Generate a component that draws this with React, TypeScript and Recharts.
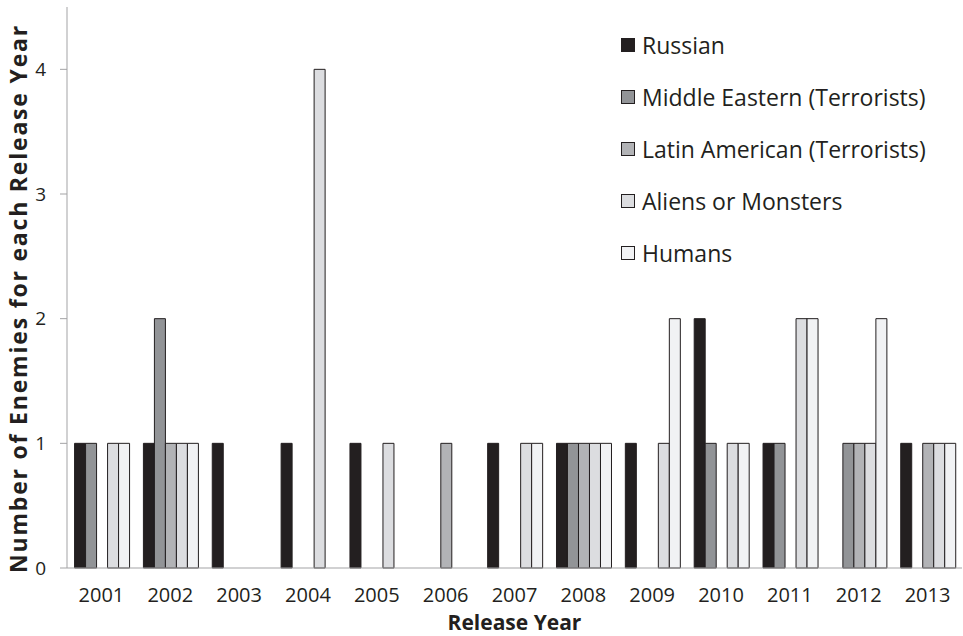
import React from "react";
import { BarChart, Bar, XAxis, YAxis } from "recharts";

const years = [
  "2001", "2002", "2003", "2004", "2005", "2006", "2007",
  "2008", "2009", "2010", "2011", "2012", "2013",
];

const russian = [1, 1, 1, 1, 1, 0, 1, 1, 1, 2, 1, 0, 1];
const middleEastern = [1, 2, 0, 0, 0, 0, 0, 1, 0, 1, 1, 1, 0];
const latinAmerican = [0, 1, 0, 0, 0, 1, 0, 1, 0, 0, 0, 1, 1];
const aliens = [1, 1, 0, 4, 1, 0, 1, 1, 1, 1, 2, 1, 1];
const humans = [1, 1, 0, 0, 0, 0, 1, 1, 2, 1, 2, 2, 1];

const yTicks = [0, 1, 2, 3, 4];

const seriesList = [
  { key: "russian", name: "Russian", fill: "#231f20" },
  { key: "middleEastern", name: "Middle Eastern (Terrorists)", fill: "#929497" },
  { key: "latinAmerican", name: "Latin American (Terrorists)", fill: "#b2b3b6" },
  { key: "aliens", name: "Aliens or Monsters", fill: "#dcdde0" },
  { key: "humans", name: "Humans", fill: "#f1f2f4" },
];

const data = years.map((year, i) => ({
  year,
  russian: russian[i],
  middleEastern: middleEastern[i],
  latinAmerican: latinAmerican[i],
  aliens: aliens[i],
  humans: humans[i],
}));

const FONT = "'Open Sans', sans-serif";
const INK = "#231f20";
const AXIS_GREY = "#a3a3a5";

// legend sits over the plot, so it is drawn outside the chart layout
function KeyList() {
  return (
    <div
      style={{
        position: "absolute",
        left: 621,
        top: 19,
        fontFamily: FONT,
        fontSize: 23,
        color: INK,
        pointerEvents: "none",
      }}
    >
      {seriesList.map((s) => (
        <div
          key={s.key}
          style={{ display: "flex", alignItems: "center", height: 52, whiteSpace: "nowrap" }}
        >
          <span
            style={{
              display: "inline-block",
              width: 12,
              height: 12,
              background: s.fill,
              border: `1px solid ${INK}`,
              marginRight: 7,
            }}
          />
          <span>{s.name}</span>
        </div>
      ))}
    </div>
  );
}

function YTitle(props: any) {
  const vb = props.viewBox;
  const cx = 18;
  const cy = vb.y + vb.height / 2 + 11;
  return (
    <text
      x={cx}
      y={cy}
      transform={`rotate(-90, ${cx}, ${cy})`}
      textAnchor="middle"
      dominantBaseline="central"
      fontFamily={FONT}
      fontWeight="bold"
      fontSize={23}
      letterSpacing={1.8}
      fill={INK}
    >
      Number of Enemies for each Release Year
    </text>
  );
}

function XTitle(props: any) {
  const vb = props.viewBox;
  return (
    <text
      x={vb.x + vb.width / 2}
      y={630}
      textAnchor="middle"
      fontFamily={FONT}
      fontWeight="bold"
      fontSize={21}
      fill={INK}
    >
      Release Year
    </text>
  );
}

export default function App() {
  return (
    <div style={{ position: "absolute", left: 0, top: 0, width: 963, height: 636, background: "#fff" }}>
      <BarChart
        width={963}
        height={636}
        data={data}
        margin={{ top: 7, right: 1, bottom: 0, left: 0 }}
        barCategoryGap="11%"
        barGap={0}
      >
        <XAxis
          dataKey="year"
          height={68}
          interval={0}
          tickLine={false}
          tickSize={0}
          tickMargin={20}
          stroke={AXIS_GREY}
          tick={{ fill: INK, fontSize: 20, fontFamily: FONT }}
          label={<XTitle />}
        />
        <YAxis
          width={67}
          domain={[0, 4.5]}
          ticks={yTicks}
          tickSize={7}
          tickMargin={14}
          stroke={AXIS_GREY}
          tick={{ fill: INK, fontSize: 19, fontFamily: FONT }}
          label={<YTitle />}
        />
        {seriesList.map((s) => (
          <Bar
            key={s.key}
            dataKey={s.key}
            name={s.name}
            fill={s.fill}
            stroke={INK}
            strokeWidth={1}
            isAnimationActive={false}
          />
        ))}
      </BarChart>
      <KeyList />
    </div>
  );
}
